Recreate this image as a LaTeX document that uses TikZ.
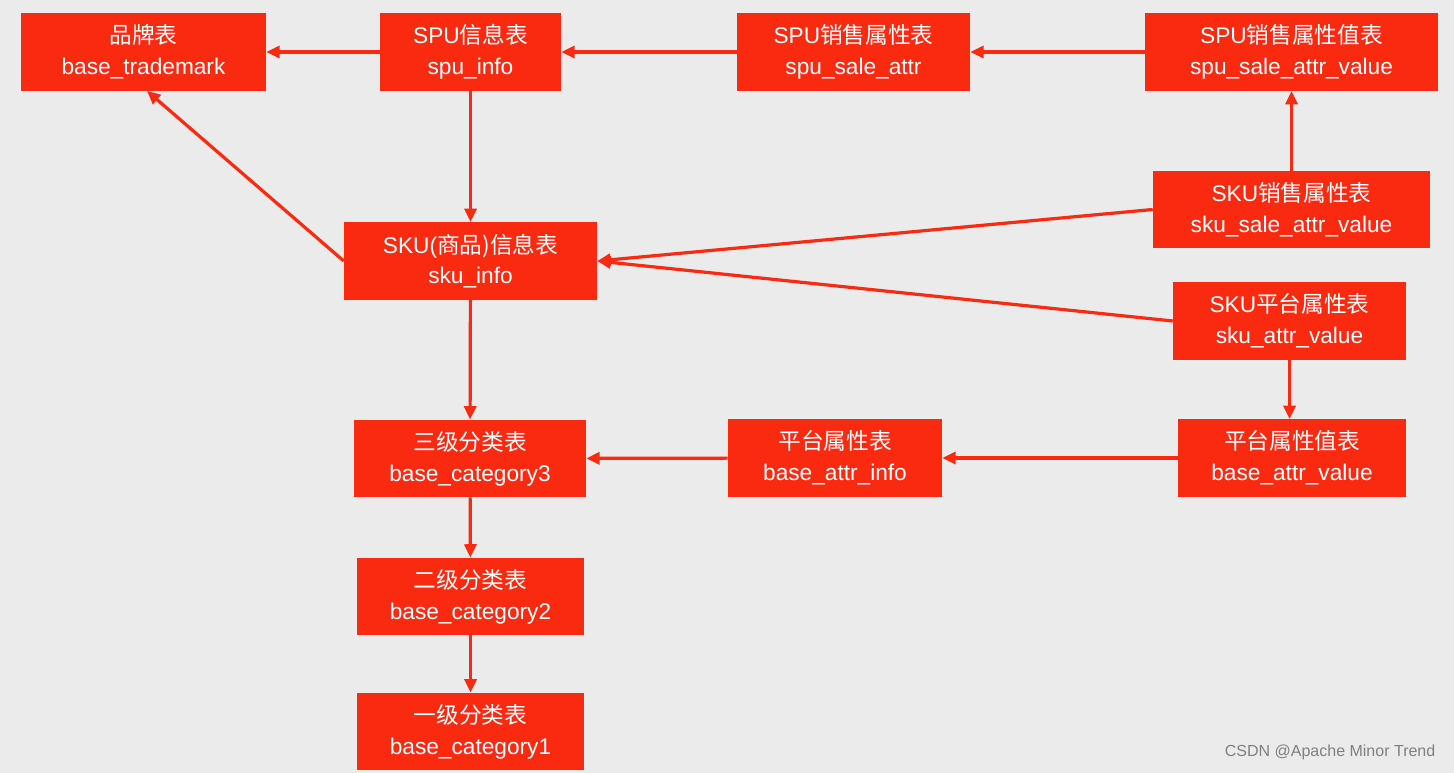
\documentclass[tikz,border=0pt]{standalone}
\usepackage{fontspec}
\setmainfont{Liberation Sans}
\newfontfamily\cjk{Noto Sans CJK SC}
\usetikzlibrary{arrows.meta}
\definecolor{bg}{HTML}{EBEBEB}
\definecolor{rd}{HTML}{FA2A10}
\begin{document}
\begin{tikzpicture}[x=0.75pt,y=-0.75pt,
  tbl/.style={fill=rd,text=white,inner sep=0pt,align=center,font=\fontsize{17}{23}\selectfont,minimum height=58pt},
  conn/.style={draw=rd,line width=2.4pt,-{Triangle[length=10pt,width=9pt]}}]
\fill[bg] (0,0) rectangle (1454,773);
\useasboundingbox (0,0) rectangle (1454,773);
\newcommand\tb[6]{\node[tbl,minimum width={(#4-#2)*0.75pt}] (#1) at ({(#2+#4)/2},{(#3+#5)/2}) {#6};}
\tb{tm}{21}{13}{266}{91}{{\cjk 品牌表}\\base\_trademark}
\tb{spu}{380}{13}{561}{91}{SPU{\cjk 信息表}\\spu\_info}
\tb{ssa}{737}{13}{970}{91}{SPU{\cjk 销售属性表}\\spu\_sale\_attr}
\tb{ssav}{1145}{13}{1438}{91}{SPU{\cjk 销售属性值表}\\spu\_sale\_attr\_value}
\tb{sku}{344}{223}{597}{299}{SKU({\cjk 商品)信息表}\\sku\_info}
\tb{sksav}{1153}{171}{1430}{248}{SKU{\cjk 销售属性表}\\sku\_sale\_attr\_value}
\tb{skav}{1173}{283}{1406}{359}{SKU{\cjk 平台属性表}\\sku\_attr\_value}
\tb{c3}{354}{420}{586}{497}{{\cjk 三级分类表}\\base\_category3}
\tb{ai}{728}{420}{942}{496}{{\cjk 平台属性表}\\base\_attr\_info}
\tb{av}{1178}{420}{1406}{496}{{\cjk 平台属性值表}\\base\_attr\_value}
\tb{c2}{357}{558}{584}{635}{{\cjk 二级分类表}\\base\_category2}
\tb{c1}{357}{693}{584}{770}{{\cjk 一级分类表}\\base\_category1}
\draw[conn] (spu) -- (tm);
\draw[conn] (ssa) -- (spu);
\draw[conn] (ssav) -- (ssa);
\draw[conn] (spu) -- (sku);
\draw[conn] (sku.west) -- (tm.south west -| 147,0);
\draw[conn] (sksav) -- (ssav);
\draw[conn] (sksav.west) -- (sku.east);
\draw[conn] (skav.west) -- (sku.east);
\draw[conn] (skav.south) -- (skav.south |- av.north);
\draw[conn] (av) -- (ai);
\draw[conn] (ai) -- (c3);
\draw[conn] (sku) -- (c3);
\draw[conn] (c3) -- (c2);
\draw[conn] (c2) -- (c1);
\node[text=gray,font=\fontsize{12}{14}\selectfont,anchor=south east] (wm) at (1440,765) {CSDN @Apache Minor Trend};
\end{tikzpicture}
\end{document}
